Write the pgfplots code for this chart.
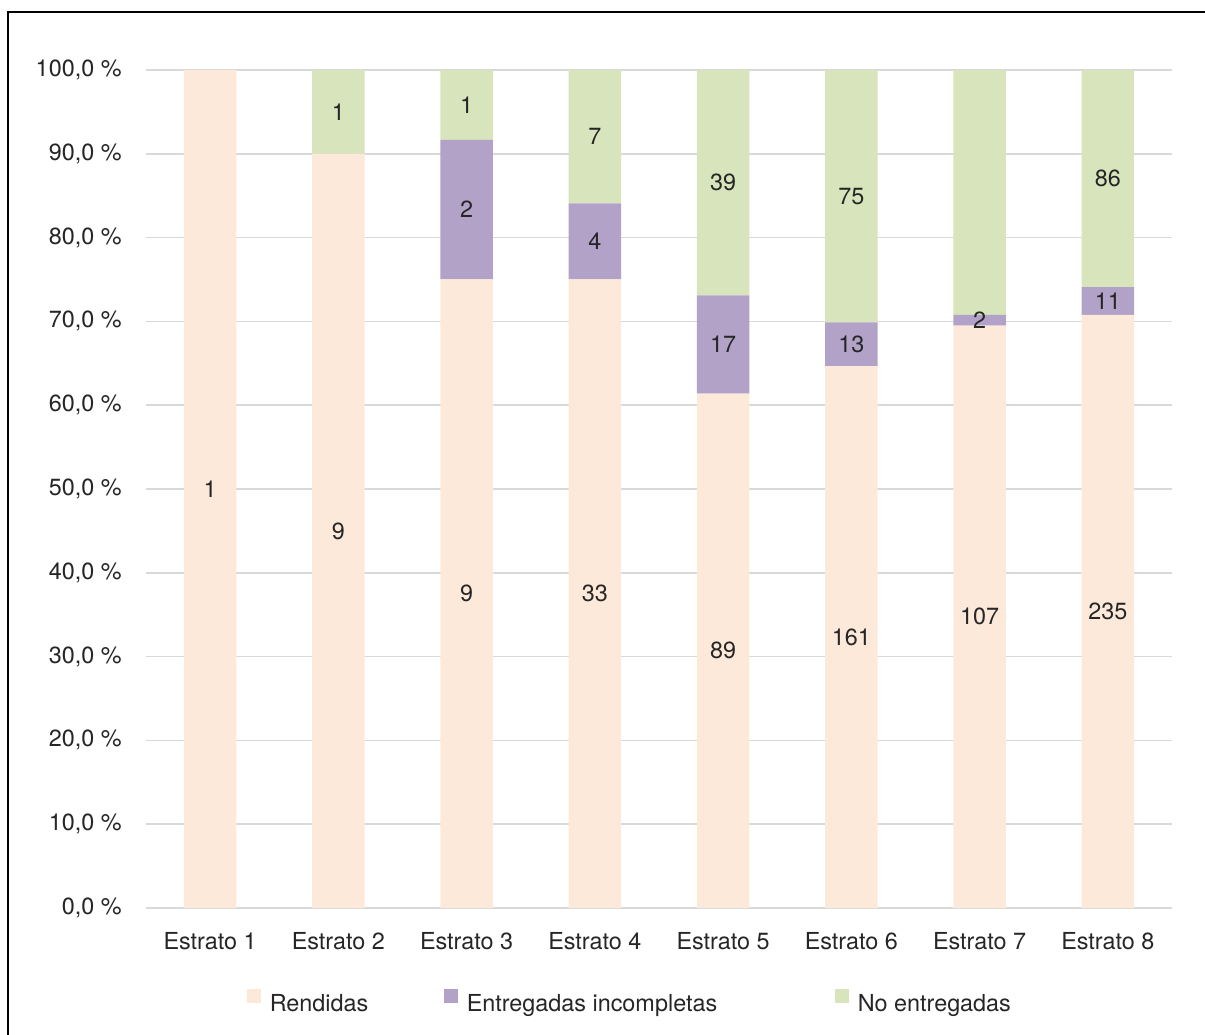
\documentclass[border=0pt]{standalone}
\usepackage{pgfplots}
\pgfplotsset{compat=1.18}
\usepackage{pgfplotstable}
\usepackage{fontspec}
\setmainfont{TeX Gyre Heros}

\definecolor{cRend}{HTML}{FDE9D9}
\definecolor{cInc}{HTML}{B2A2C7}
\definecolor{cNo}{HTML}{D8E4BC}
\definecolor{cGrid}{HTML}{D9D9D9}
\definecolor{cTxt}{HTML}{262626}

\newcommand\lab{\fontsize{11.7}{13.8}\selectfont}

% counts (r, i, n) and their share of each stratum in percent (pr, pi, pn)
\pgfplotstableread{
x r   pr      i  pi      n  pn
0 1   100     0  0       0  0
1 9   90      0  0       1  10
2 9   75      2  16.667  1  8.333
3 33  75      4  9.091   7  15.909
4 89  61.379  17 11.724  39 26.897
5 161 64.659  13 5.221   75 30.120
6 107 69.481  2  1.299   45 29.221
7 235 70.783  11 3.313   86 25.904
}\datatable

\begin{document}
\begin{tikzpicture}
\begin{axis}[
    scale only axis,
    width=513pt, height=419pt,
    ybar stacked,
    bar width=26.3pt,
    xmin=-0.5, xmax=7.5,
    ymin=0, ymax=100,
    xtick={0,...,7},
    xticklabels={Estrato 1,Estrato 2,Estrato 3,Estrato 4,Estrato 5,Estrato 6,Estrato 7,Estrato 8},
    ytick={0,10,...,100},
    yticklabel={\pgfmathprintnumber[fixed,fixed zerofill,precision=1,use comma]{\tick}~\%},
    /pgf/number format/assume math mode=true,
    ymajorgrids,
    grid style={cGrid, line width=0.75pt},
    axis line style={draw=none},
    tick style={draw=none},
    major tick length=0pt,
    tick label style={font=\lab, text=cTxt},
    yticklabel style={anchor=east, inner sep=0pt, xshift=-12pt},
    xticklabel style={anchor=north, inner sep=0pt, yshift=-12pt},
    point meta=explicit,
    nodes near coords={\pgfmathfloatifflags{\pgfplotspointmeta}{0}{}{\pgfmathprintnumber{\pgfplotspointmeta}}},
    nodes near coords style={font=\lab, text=cTxt, anchor=center, inner sep=0pt},
    legend columns=-1,
    legend cell align=left,
    legend image code/.code={\fill[#1] (0pt,0.5pt) rectangle (7pt,7.5pt);},
    legend style={draw=none, fill=none, inner sep=0pt, font=\lab, text=cTxt,
        at={(0.0984,-0.112)}, anchor=west,
        /tikz/column sep=0pt,
        nodes={inner sep=0pt}},
]
\addplot[fill=cRend, draw=none] table[x=x, y=pr, meta=r] {\datatable};
\addplot[fill=cInc, draw=none] table[x=x, y=pi, meta=i] {\datatable};
\addplot[fill=cNo, draw=none] table[x=x, y=pn, meta=n] {\datatable};
\legend{\hspace{4.2pt}\makebox[87pt][l]{Rendidas},
        \hspace{4.5pt}\makebox[184pt][l]{Entregadas incompletas},
        \hspace{4.5pt}No entregadas}
\end{axis}
\draw[line width=0.75pt, black] (-69pt,-90pt) -- (-69pt,448pt) -- (560pt,448pt);
\pgfresetboundingbox
\useasboundingbox (-73pt,-63pt) rectangle (529.5pt,454pt);
\end{tikzpicture}
\end{document}
